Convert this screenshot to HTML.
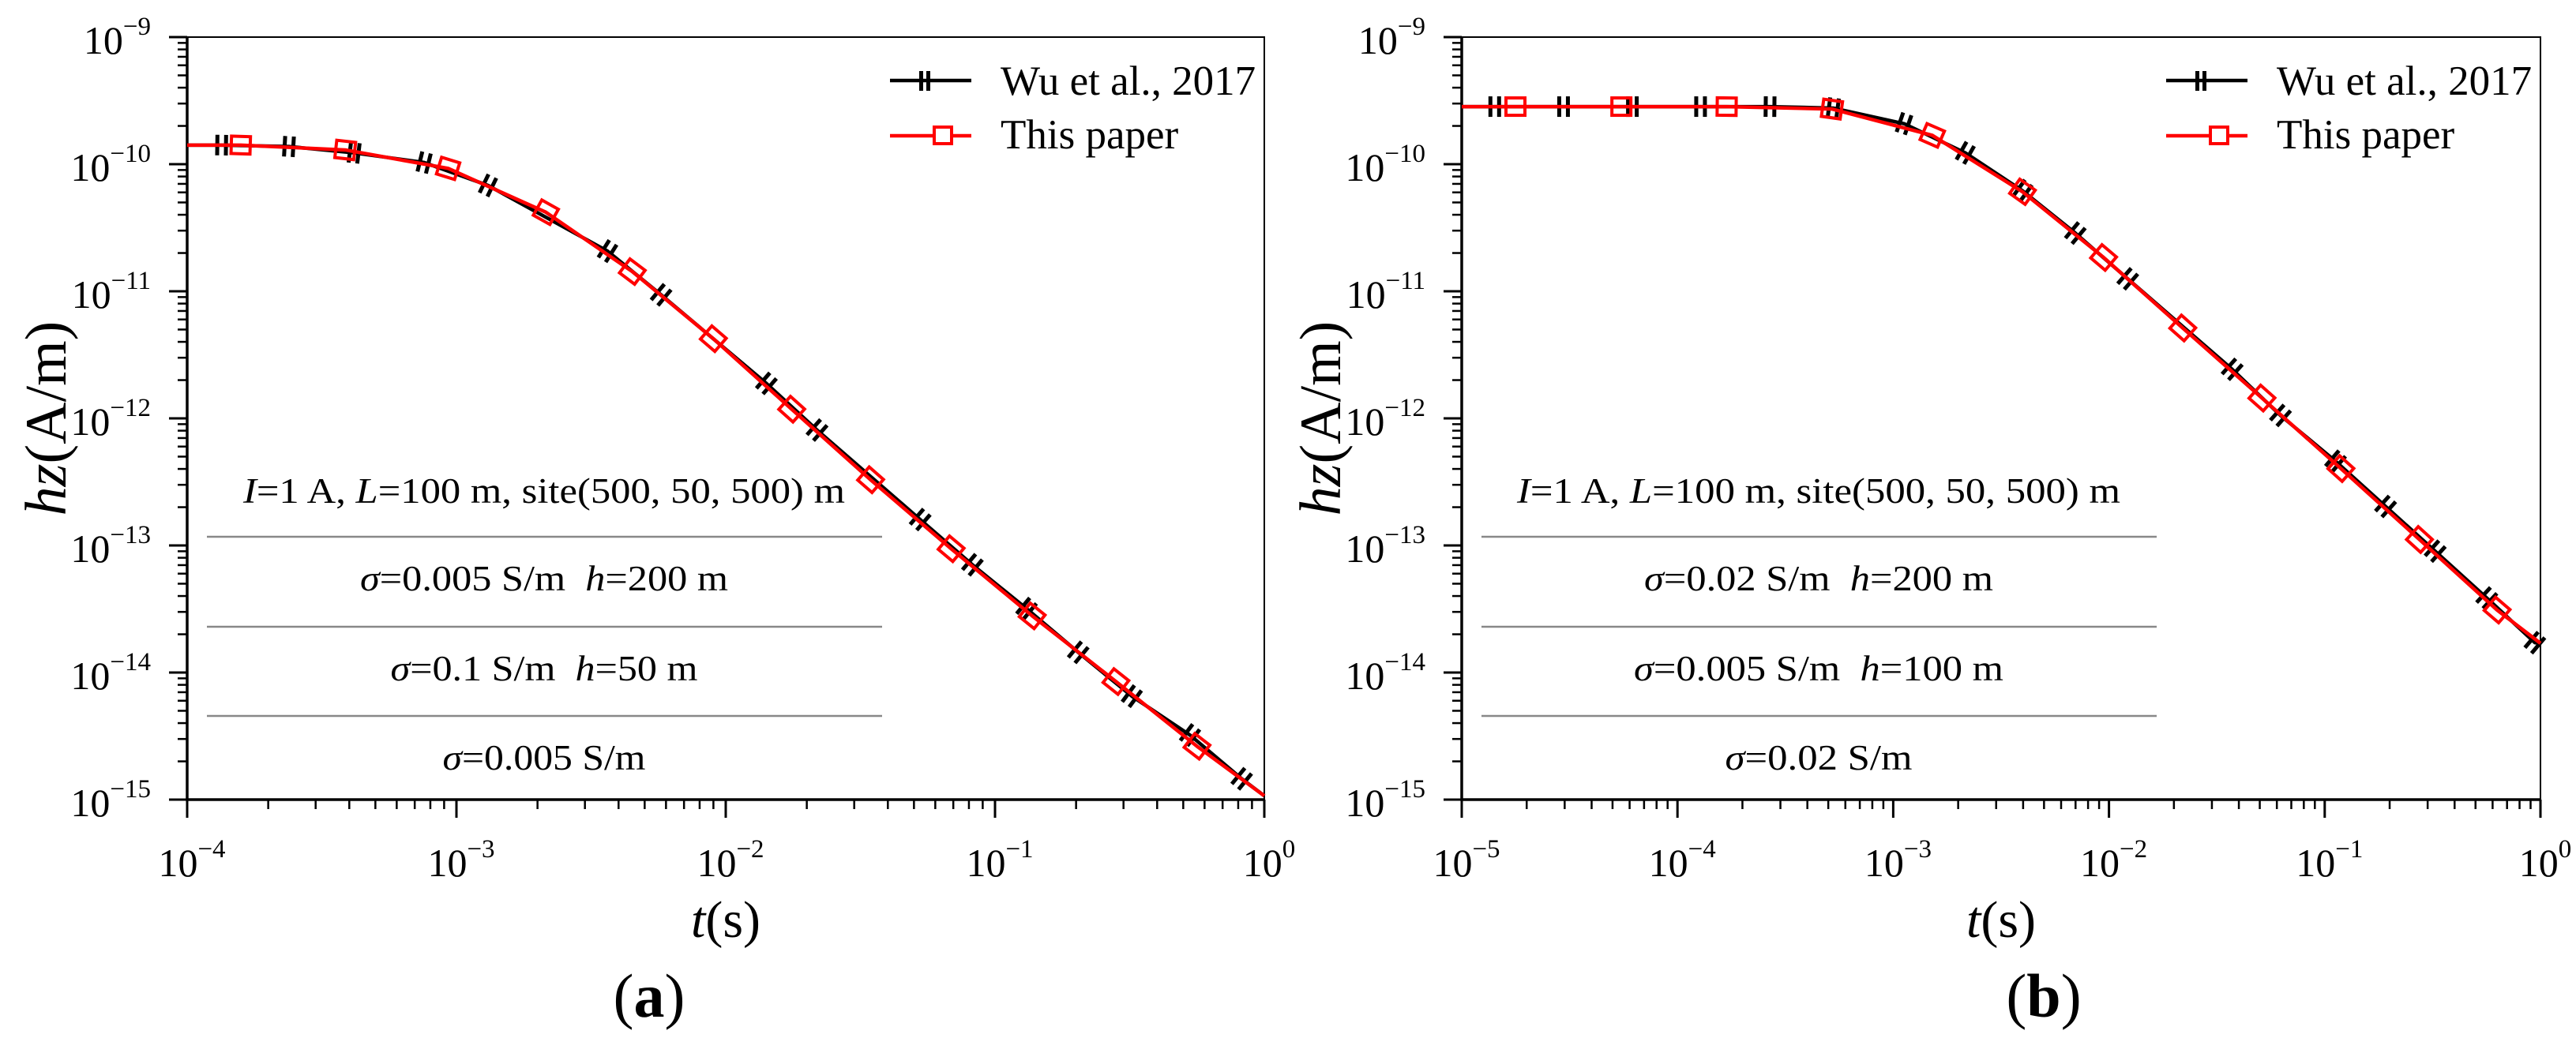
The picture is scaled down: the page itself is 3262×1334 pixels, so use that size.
<!DOCTYPE html>
<html><head><meta charset="utf-8"><style>
html,body{margin:0;padding:0;background:#fff;}
svg, svg text{font-family:"Liberation Serif","Times New Roman",serif;}
</style></head><body>
<svg id="fig" width="3262" height="1329" viewBox="0 0 3262 1329" xmlns="http://www.w3.org/2000/svg" font-family="Liberation Serif, serif"></svg>
<script>
// ---- Data (log10 values) ----
// Panel (a)
const aWuLogT  = [-3.872,-3.622,-3.380,-3.120,-2.883,-2.439,-2.240,-1.849,-1.661,-1.278,-1.084,-0.883,-0.691,-0.492,-0.276,-0.084];
const aWuLogH  = [-9.850,-9.861,-9.911,-9.987,-10.167,-10.684,-11.028,-11.725,-12.092,-12.796,-13.152,-13.497,-13.841,-14.186,-14.492,-14.836];
const aPapLogT = [-3.801,-3.413,-3.031,-2.668,-2.347,-2.046,-1.755,-1.462,-1.163,-0.862,-0.551,-0.250];
const aPapLogH = [-9.850,-9.888,-10.033,-10.378,-10.845,-11.373,-11.928,-12.483,-13.026,-13.554,-14.071,-14.580];
const aStartLogH = -9.850, aEndLogH = -14.97;
// Panel (b)
const bWuLogT  = [-4.847,-4.528,-4.209,-3.893,-3.571,-3.278,-2.950,-2.666,-2.401,-2.156,-1.913,-1.429,-1.205,-0.950,-0.718,-0.488,-0.249,-0.026];
const bWuLogH  = [-9.547,-9.547,-9.547,-9.547,-9.547,-9.559,-9.681,-9.911,-10.209,-10.542,-10.902,-11.614,-11.977,-12.337,-12.693,-13.045,-13.413,-13.765];
const bPapLogT = [-4.751,-4.260,-3.772,-3.284,-2.819,-2.401,-2.025,-1.658,-1.291,-0.925,-0.561,-0.201];
const bPapLogH = [-9.547,-9.547,-9.547,-9.566,-9.773,-10.217,-10.734,-11.289,-11.840,-12.395,-12.953,-13.508];
const bStartLogH = -9.547, bEndLogH = -13.77;
// Axis tick exponents
const aXTicks = [-4,-3,-2,-1,0];
const bXTicks = [-5,-4,-3,-2,-1,0];
const yTicks = [-9,-10,-11,-12,-13,-14,-15];
const legendLabels = ["Wu et al., 2017","This paper"];

const NS="http://www.w3.org/2000/svg";
const FF='Liberation Serif, Times New Roman, serif';
const svg=document.getElementById('fig');
function el(tag,attrs,parent){const e=document.createElementNS(NS,tag);for(const k in attrs)e.setAttribute(k,attrs[k]);if(tag==='text')e.setAttribute('font-family',FF);(parent||svg).appendChild(e);return e;}

const TOP=47,BOT=1013;
function drawPanel(p){
  const g=el('g',{});
  
  
  const xs=v=>p.L+(v-p.xmin)/(p.xmax-p.xmin)*(p.R-p.L);
  const ys=v=>TOP+(-9-v)/6*(BOT-TOP);
  const fr=el('rect',{x:p.L,y:TOP,width:p.R-p.L,height:BOT-TOP,fill:'none',stroke:'#000','stroke-width':2},g);
  
  const ax=el('path',{d:`M${p.L},${TOP}V${BOT}H${p.R}`,fill:'none',stroke:'#000','stroke-width':3.5},g);
  
  const yg=el('g',{},g);
  for(let e=-9;e>=-15;e--){
    const y=ys(e);
    el('line',{x1:p.L-23,x2:p.L,y1:y,y2:y,stroke:'#000','stroke-width':3},yg);
    if(e>-15)for(let m=2;m<=9;m++){const yy=ys(e-1+Math.log10(m));el('line',{x1:p.L-12,x2:p.L,y1:yy,y2:yy,stroke:'#000','stroke-width':2.5},yg);}
  }
  yTicks.forEach(e=>{
    const t=el('text',{x:p.L-46,y:ys(e)+21,'text-anchor':'end','font-size':50},yg);
    
    t.innerHTML='10<tspan dy="-24" font-size="33">\u2212'+(-e)+'</tspan>';
  });
  const xg=el('g',{},g);
  for(let e=p.xmin;e<=p.xmax;e++){
    const x=xs(e);
    el('line',{x1:x,x2:x,y1:BOT,y2:BOT+23,stroke:'#000','stroke-width':3},xg);
    if(e<p.xmax)for(let m=2;m<=9;m++){const xx=xs(e+Math.log10(m));el('line',{x1:xx,x2:xx,y1:BOT,y2:BOT+12,stroke:'#000','stroke-width':2.5},xg);}
  }
  p.xt.forEach(e=>{
    const t=el('text',{x:xs(e)+6,y:1110,'text-anchor':'middle','font-size':50},xg);
    
    t.innerHTML='10'+'<tspan dy="-24" font-size="33">'+(e<0?'\u2212'+(-e):'0')+'</tspan>';
  });
  const xt=el('text',{x:(p.L+p.R)/2,y:1187,'text-anchor':'middle','font-size':66},g);
  
  xt.innerHTML='<tspan font-style="italic">t</tspan>(s)';
  const yt=el('text',{x:0,y:0,'text-anchor':'middle','font-size':74,transform:`translate(${p.L-154},${(TOP+BOT)/2}) rotate(-90)`},g);
  
  yt.innerHTML='<tspan font-style="italic">hz</tspan>(A/m)';
  const pl=el('text',{x:p.labX,y:1288,'text-anchor':'middle','font-size':78},g);
  
  pl.innerHTML='(<tspan font-weight="bold">'+p.id+'</tspan>)';
  const an=el('g',{},g);
  const cx=p.L+452;
  p.ann.forEach((a,i)=>{
    const t=el('text',{x:cx,y:[637,748,862,975][i],'text-anchor':'middle','font-size':45,textLength:a[1],lengthAdjust:'spacingAndGlyphs'},an);
    
    t.innerHTML=a[0];
  });
  [680,794,907].forEach(y=>{const l=el('line',{x1:p.L+25,x2:p.L+880,y1:y,y2:y,stroke:'#888','stroke-width':2.5},an);
    });
  function series(lt,lh,color,name,kind){
    const sg=el('g',{},g);
    const pts=[[xs(p.xmin),ys(p.h0)]].concat(lt.map((v,i)=>[xs(v),ys(lh[i])])).concat([[xs(p.xmax),ys(p.h1)]]);
    el('polyline',{points:pts.map(q=>q.join(',')).join(' '),fill:'none',stroke:color,'stroke-width':4.5,'stroke-linejoin':'round'},sg);
    for(let i=1;i<pts.length-1;i++){
      const ang=Math.atan2(pts[i+1][1]-pts[i-1][1],pts[i+1][0]-pts[i-1][0])*180/Math.PI;
      const mg=el('g',{transform:`translate(${pts[i][0]},${pts[i][1]}) rotate(${ang})`},sg);
      
      if(kind==='wu'){el('rect',{x:-8,y:-13,width:5,height:26,fill:'#000'},mg);el('rect',{x:3,y:-13,width:5,height:26,fill:'#000'},mg);}
      else el('rect',{x:-12,y:-11,width:24,height:22,fill:'none',stroke:'#f00','stroke-width':4},mg);
    }
  }
  series(p.wt,p.wh,'#000','series-wu-2017','wu');
  series(p.pt,p.ph,'#f00','series-this-paper','paper');
  const lg=el('g',{},g);
  const lx=p.R-474;
  const e1=el('g',{},lg);
  el('line',{x1:lx,x2:lx+103,y1:102,y2:102,stroke:'#000','stroke-width':4.5},e1);
  el('rect',{x:lx+37,y:90,width:5,height:25,fill:'#000'},e1);el('rect',{x:lx+46,y:90,width:5,height:25,fill:'#000'},e1);
  const t1=el('text',{x:lx+140,y:120,'font-size':53},e1);t1.textContent=legendLabels[0];
  const e2=el('g',{},lg);
  el('line',{x1:lx,x2:lx+103,y1:172,y2:172,stroke:'#f00','stroke-width':4.5},e2);
  el('rect',{x:lx+56,y:161,width:22,height:21,fill:'#fff',stroke:'#f00','stroke-width':4},e2);
  const t2=el('text',{x:lx+140,y:188,'font-size':53},e2);t2.textContent=legendLabels[1];
}
const I='<tspan font-style="italic">I</tspan>=1 A, <tspan font-style="italic">L</tspan>=100 m, site(500, 50, 500) m';
const S='<tspan font-style="italic">σ</tspan>=';
const H='<tspan font-style="italic">h</tspan>=';
drawPanel({id:'a',L:237,R:1601,xmin:-4,xmax:0,xt:aXTicks,wt:aWuLogT,wh:aWuLogH,pt:aPapLogT,ph:aPapLogH,h0:aStartLogH,h1:aEndLogH,labX:822,
  ann:[[I,762],[S+'0.005 S/m\u00a0\u00a0'+H+'200 m',466],[S+'0.1 S/m\u00a0\u00a0'+H+'50 m',389],[S+'0.005 S/m',257]]});
drawPanel({id:'b',L:1851,R:3217,xmin:-5,xmax:0,xt:bXTicks,wt:bWuLogT,wh:bWuLogH,pt:bPapLogT,ph:bPapLogH,h0:bStartLogH,h1:bEndLogH,labX:2588,
  ann:[[I,764],[S+'0.02 S/m\u00a0\u00a0'+H+'200 m',442],[S+'0.005 S/m\u00a0\u00a0'+H+'100 m',468],[S+'0.02 S/m',237]]});
</script>
</body></html>
